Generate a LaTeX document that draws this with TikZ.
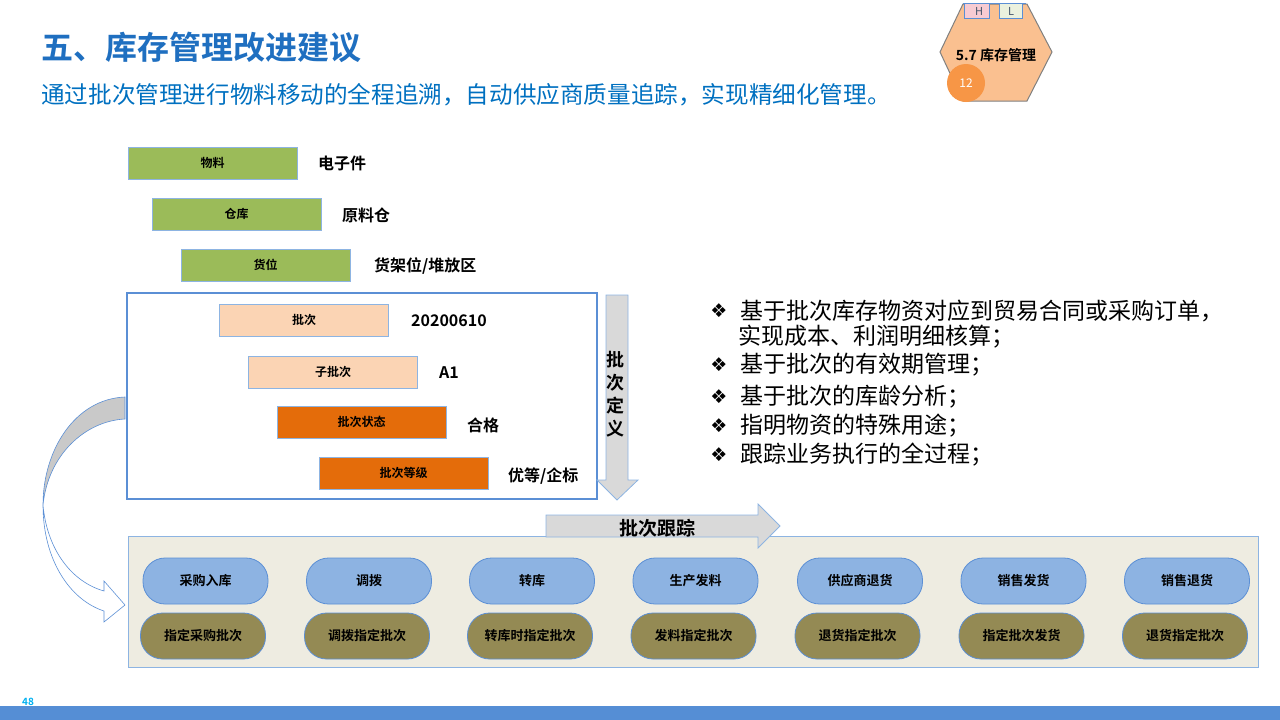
\documentclass[tikz,border=0pt]{standalone}
\usepackage{fontspec}
\setmainfont{Noto Sans CJK SC}[BoldFont={* Bold}]
\newfontfamily\djv{DejaVu Sans}
\usetikzlibrary{shapes.geometric}
\definecolor{titleblue}{HTML}{1F6FC0}
\definecolor{subblue}{HTML}{0070C0}
\definecolor{edgeblue}{HTML}{8DB4E2}
\definecolor{frameblue}{HTML}{5B8FD5}
\definecolor{boxgreen}{HTML}{9BBB59}
\definecolor{boxpeach}{HTML}{FBD4B4}
\definecolor{boxorange}{HTML}{E46C0A}
\definecolor{arrgray}{HTML}{D9D9D9}
\definecolor{panelbg}{HTML}{EEECE1}
\definecolor{pillblue}{HTML}{8DB3E2}
\definecolor{pillolive}{HTML}{948A54}
\definecolor{hexfill}{HTML}{FAC090}
\definecolor{circorange}{HTML}{F79646}
\definecolor{barblue}{HTML}{558ED5}
\definecolor{numblue}{HTML}{00B0F0}
\definecolor{hpink}{HTML}{F8CBD2}
\definecolor{lgreen}{HTML}{EBF1DE}
\definecolor{hltext}{HTML}{44546A}
\tikzset{
  levbox/.style={draw=edgeblue, line width=0.8pt, minimum width=169pt, minimum height=32pt, inner sep=0pt, font=\bfseries\fontsize{12}{13}\selectfont},
  greenbox/.style={levbox, fill=boxgreen},
  peachbox/.style={levbox, fill=boxpeach},
  orangebox/.style={levbox, fill=boxorange},
  vallabel/.style={anchor=west, inner sep=0pt, font=\bfseries\fontsize{16}{18}\selectfont},
  pill/.style={draw=frameblue, line width=0.8pt, rounded corners=22pt, minimum width=125pt, minimum height=46pt, inner sep=0pt, font=\bfseries\fontsize{13}{14}\selectfont},
  toppill/.style={pill, fill=pillblue},
  botpill/.style={pill, fill=pillolive},
  bullet/.style={anchor=west, inner sep=0pt, font=\fontsize{23}{25}\selectfont},
  bmark/.style={anchor=center, inner sep=0pt, font=\djv\fontsize{19}{20}\selectfont}
}
\begin{document}
\begin{tikzpicture}[x=1pt,y=-1pt]
\useasboundingbox (0,0) rectangle (1280,720);
% bottom bar
\fill[barblue] (0,706) rectangle (1280,720);
\node[anchor=center, inner sep=0pt, text=numblue, font=\bfseries\fontsize{10}{11}\selectfont] (pg) at (28,702) {48};
% title
\node[anchor=west, inner sep=0pt, text=titleblue, font=\bfseries\fontsize{32}{35}\selectfont] (title) at (41,47) {五、库存管理改进建议};
\node[anchor=west, inner sep=0pt, text=subblue, font=\fontsize{23.6}{26}\selectfont] (sub) at (41,95) {通过批次管理进行物料移动的全程追溯，自动供应商质量追踪，实现精细化管理。};
% hexagon badge
\draw[fill=hexfill, draw=gray, line width=1pt] (963,4) -- (1027,4) -- (1052,52) -- (1027,101) -- (963,101) -- (940,52) -- cycle;
\draw[fill=hpink, draw=frameblue, line width=0.6pt] (964,3) rectangle (989,18);
\draw[fill=lgreen, draw=frameblue, line width=0.6pt] (999,3) rectangle (1022,18);
\draw[draw=frameblue, line width=0.8pt] (963,3) -- (1026,3);
\node[inner sep=0pt, text=hltext, font=\fontsize{11}{12}\selectfont] (hh) at (979,11) {H};
\node[inner sep=0pt, text=hltext, font=\fontsize{11}{12}\selectfont] (ll) at (1011,11) {L};
\node[inner sep=0pt, font=\bfseries\fontsize{14}{16}\selectfont] (hext) at (996,55) {5.7 库存管理};
\node[circle, fill=circorange, minimum size=38pt, inner sep=0pt, text=white, font=\fontsize{12}{13}\selectfont] (num) at (966,83) {12};
% green boxes
\node[greenbox] (wl) at (212.5,163) {物料};
\node[vallabel] (wlv) at (318,163) {电子件};
\node[greenbox] (ck) at (236.5,214) {仓库};
\node[vallabel] (ckv) at (342,215) {原料仓};
\node[greenbox] (hw) at (265.5,265) {货位};
\node[vallabel] (hwv) at (374,266) {货架位/堆放区};
% batch frame
\draw[frameblue, line width=2.6pt] (127,293) rectangle (597,499);
\node[peachbox] (pc) at (304,320) {批次};
\node[vallabel] (pcv) at (411,321) {20200610};
\node[peachbox] (zpc) at (333,372) {子批次};
\node[vallabel] (zpcv) at (439,373) {A1};
\node[orangebox] (zt) at (361.5,422) {批次状态};
\node[vallabel] (ztv) at (467,425) {合格};
\node[orangebox] (dj) at (403.5,473) {批次等级};
\node[vallabel] (djv) at (508,476) {优等/企标};
% down arrow
\draw[fill=arrgray, draw=edgeblue, line width=0.8pt] (606,295) -- (628,295) -- (628,480) -- (638,480) -- (617,500) -- (597,480) -- (606,480) -- cycle;
\node[inner sep=0pt, align=center, font=\bfseries\fontsize{18}{23}\selectfont] (pcdy) at (615,394) {批\\次\\定\\义};
% bullets
\node[bmark] (b1) at (719,311) {❖};
\node[bullet] (t1) at (740,311) {基于批次库存物资对应到贸易合同或采购订单，};
\node[bullet] (t1b) at (738,337) {实现成本、利润明细核算；};
\node[bmark] (b2) at (719,365) {❖};
\node[bullet] (t2) at (740,365) {基于批次的有效期管理；};
\node[bmark] (b3) at (719,397) {❖};
\node[bullet] (t3) at (740,397) {基于批次的库龄分析；};
\node[bmark] (b4) at (719,426) {❖};
\node[bullet] (t4) at (740,426) {指明物资的特殊用途；};
\node[bmark] (b5) at (719,455) {❖};
\node[bullet] (t5) at (740,455) {跟踪业务执行的全过程；};
% bottom panel
\draw[fill=panelbg, draw=edgeblue, line width=1pt] (128,536) rectangle (1258,667);
% tracking arrow
\draw[fill=arrgray, draw=edgeblue, line width=0.8pt] (546,515) -- (758,515) -- (758,504) -- (780,526) -- (758,548) -- (758,537) -- (546,537) -- cycle;
\node[inner sep=0pt, font=\bfseries\fontsize{19}{21}\selectfont] (pcgz) at (657,528) {批次跟踪};
% pills
\node[toppill] (p1) at (205.5,581) {采购入库};
\node[toppill] (p2) at (369,581) {调拨};
\node[toppill] (p3) at (532,581) {转库};
\node[toppill] (p4) at (695.5,581) {生产发料};
\node[toppill] (p5) at (860,581) {供应商退货};
\node[toppill] (p6) at (1023.5,581) {销售发货};
\node[toppill] (p7) at (1187,581) {销售退货};
\node[botpill] (q1) at (203,636) {指定采购批次};
\node[botpill] (q2) at (367,636) {调拨指定批次};
\node[botpill] (q3) at (530,636) {转库时指定批次};
\node[botpill] (q4) at (693.5,636) {发料指定批次};
\node[botpill] (q5) at (857.5,636) {退货指定批次};
\node[botpill] (q6) at (1021.5,636) {指定批次发货};
\node[botpill] (q7) at (1185,636) {退货指定批次};
% curved arrow
\coordinate (cs1) at (125,397);
\coordinate (cs2) at (125,419);
\coordinate (cm) at (43,505);
\coordinate (ctip) at (125,605);
\draw[fill=white, draw=frameblue, line width=0.6pt] (cm) .. controls (43,560) and (70,600) .. (104,611) -- (104,622) -- (ctip) -- (104,581) -- (104,591) .. controls (72,582) and (47,550) .. (cm) -- cycle;
\draw[fill=lightgray!85, draw=frameblue, line width=0.6pt] (cs1) .. controls (75,399) and (43,450) .. (cm) .. controls (48,455) and (85,421) .. (cs2) -- cycle;
\end{tikzpicture}
\end{document}
